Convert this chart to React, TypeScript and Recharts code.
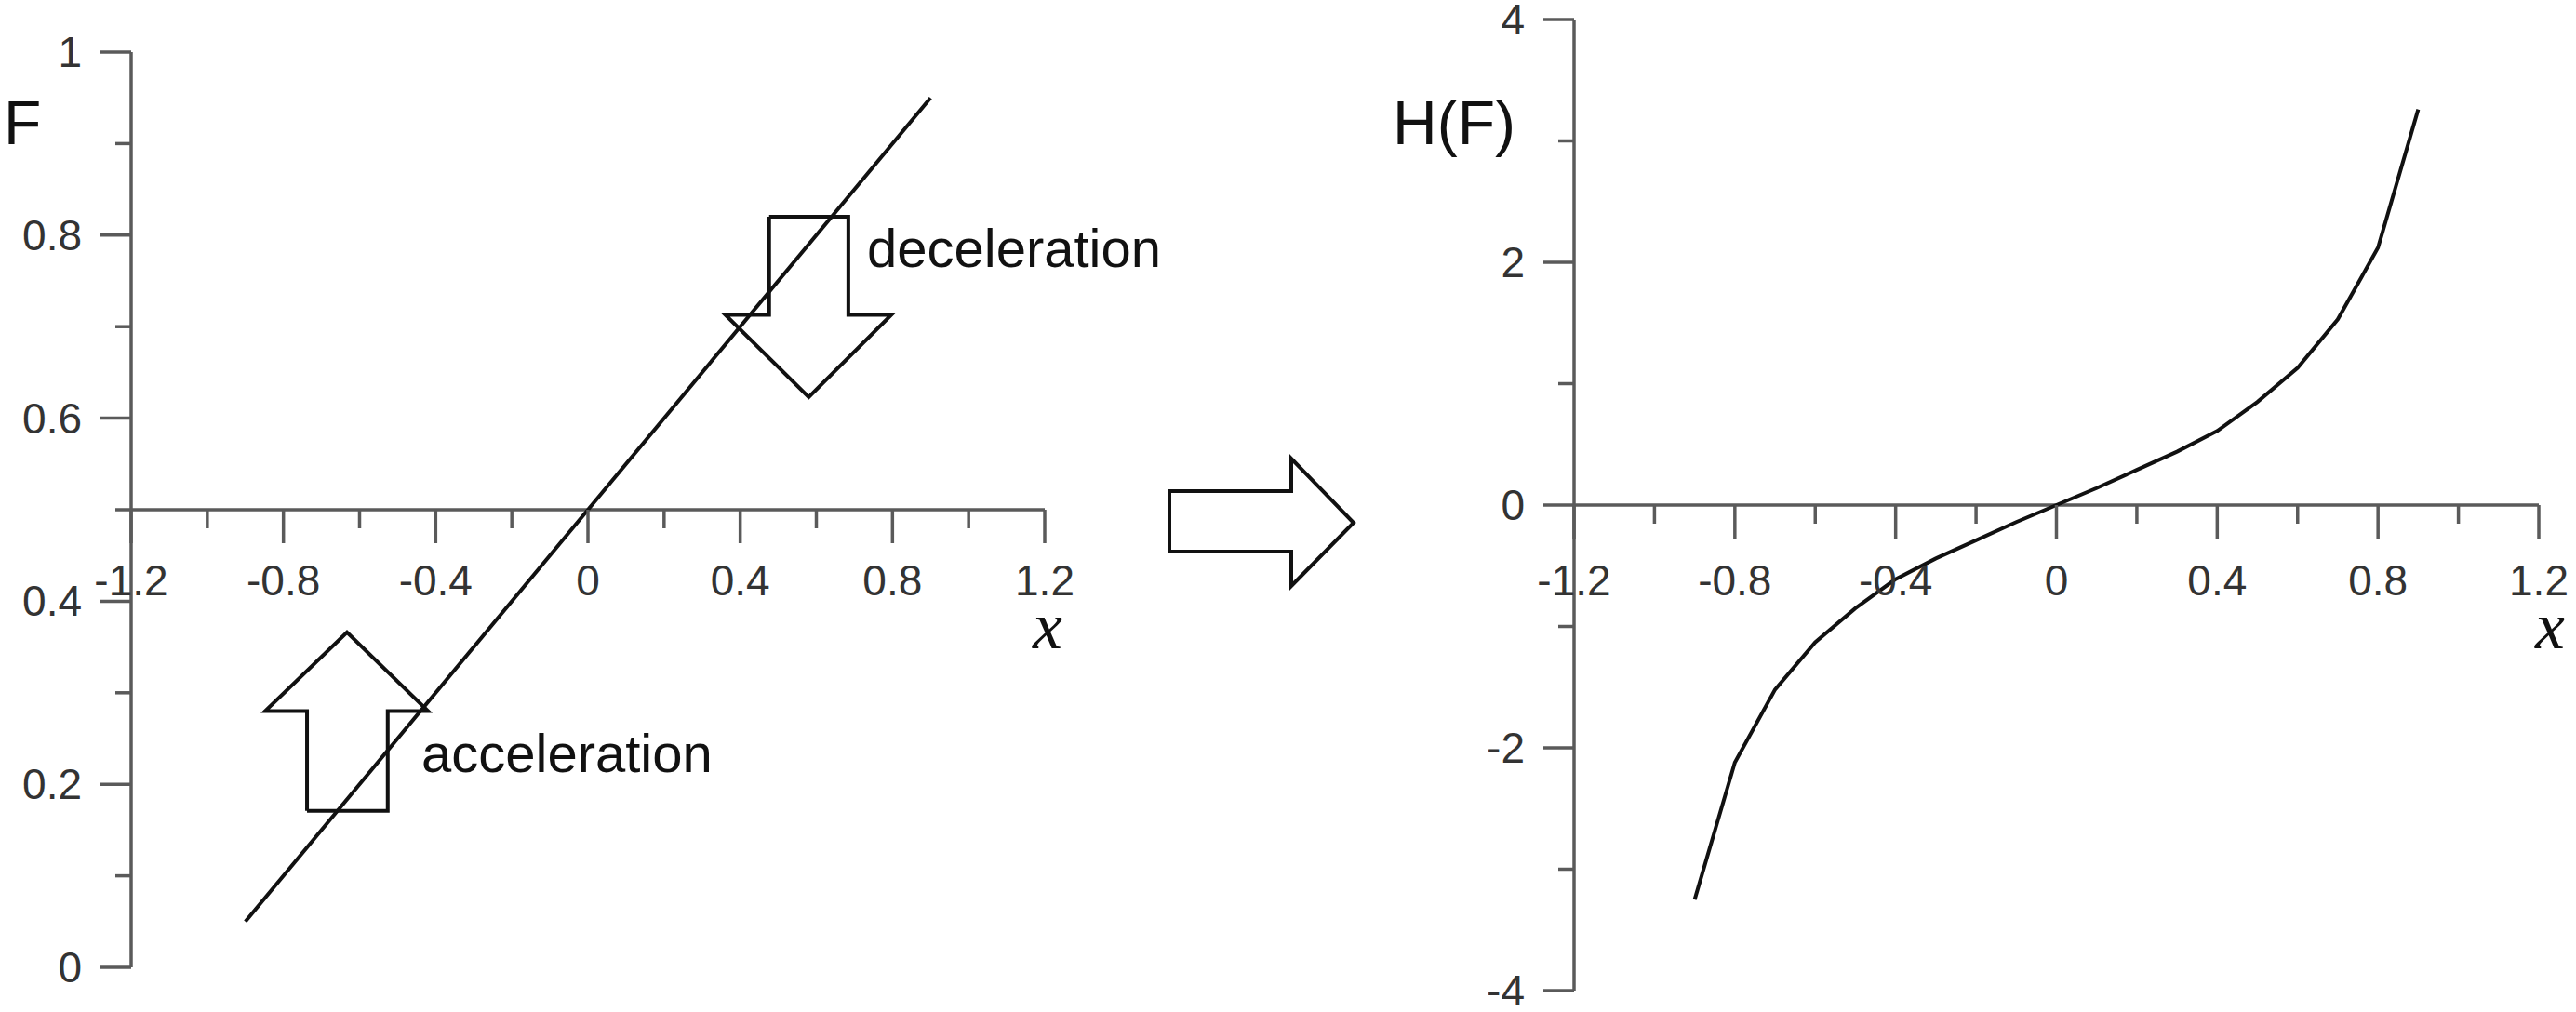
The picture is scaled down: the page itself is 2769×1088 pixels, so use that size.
import React from 'react';
import { LineChart, Line, XAxis, YAxis, ReferenceLine } from 'recharts';

// x axis shared by both panels
const X_TICKS = [-1.2, -1.0, -0.8, -0.6, -0.4, -0.2, 0, 0.2, 0.4, 0.6, 0.8, 1.0, 1.2];
const X_LABELED = [-1.2, -0.8, -0.4, 0, 0.4, 0.8, 1.2];

// left panel: F
const F_TICKS = [0, 0.1, 0.2, 0.3, 0.4, 0.5, 0.6, 0.7, 0.8, 0.9, 1];
const F_LABELED = [0, 0.2, 0.4, 0.6, 0.8, 1];
const lineX = [-0.9, 0, 0.9];
const lineF = [0.05, 0.5, 0.95];

// outline arrows on the left panel (x, F)
const decelX = [0.476, 0.684, 0.684, 0.797, 0.58, 0.361, 0.476, 0.476];
const decelF = [0.82, 0.82, 0.713, 0.713, 0.623, 0.713, 0.713, 0.82];
const accelX = [-0.738, -0.526, -0.526, -0.42, -0.633, -0.848, -0.738, -0.738];
const accelF = [0.171, 0.171, 0.28, 0.28, 0.366, 0.28, 0.28, 0.171];

// right panel: H(F)
const H_TICKS = [-4, -3, -2, -1, 0, 1, 2, 3, 4];
const H_LABELED = [-4, -2, 0, 2, 4];
const curveX = [-0.9, -0.8, -0.7, -0.6, -0.5, -0.4, -0.3, -0.2, -0.1, 0, 0.1, 0.2, 0.3, 0.4, 0.5, 0.6, 0.7, 0.8, 0.9];
const curveH = [-3.25, -2.12, -1.52, -1.13, -0.85, -0.61, -0.44, -0.29, -0.14, 0, 0.14, 0.29, 0.44, 0.61, 0.85, 1.13, 1.53, 2.12, 3.26];

const zip = (xs: number[], ys: number[]) => xs.map((x, i) => ({ x, y: ys[i] }));

const AXIS = '#5a5a5a';
const INK = '#111';
const SANS = "'Liberation Sans', Arial, sans-serif";
const SERIF = "'Liberation Serif', 'Times New Roman', serif";
const TICK_FONT = 46;

const isIn = (list: number[], v: number) => list.some((l) => Math.abs(l - v) < 1e-6);
const fmt = (v: number) => (Math.abs(v) < 1e-9 ? '0' : String(+v.toFixed(2)));

function makeYTick(major: number[]) {
  return (props: any) => {
    const { x, y, payload } = props;
    const big = isIn(major, payload.value);
    const len = big ? 33 : 17;
    return (
      <g>
        <line x1={x - len} y1={y} x2={x} y2={y} stroke={AXIS} strokeWidth={3.5} />
        {big && (
          <text x={x - len - 20} y={y} textAnchor="end" dominantBaseline="central"
            fontFamily={SANS} fontSize={TICK_FONT} fill="#333">
            {fmt(payload.value)}
          </text>
        )}
      </g>
    );
  };
}

// x ticks hang from the crossing axis, which sits `rise` px above the plot bottom
function makeXTick(major: number[], rise: number, drop: number) {
  return (props: any) => {
    const { x, y, payload } = props;
    const axisY = y - rise;
    const big = isIn(major, payload.value);
    const len = big ? 36 : 20;
    return (
      <g>
        <line x1={x} y1={axisY} x2={x} y2={axisY + len} stroke={AXIS} strokeWidth={3.5} />
        {big && (
          <text x={x} y={axisY + drop} textAnchor="middle"
            fontFamily={SANS} fontSize={TICK_FONT} fill="#333">
            {fmt(payload.value)}
          </text>
        )}
      </g>
    );
  };
}

// axes get 1px of room so they still render; the margins make up the rest
const LEFT = { w: 1200, h: 1088, m: { top: 56, right: 77, bottom: 47, left: 140 } };
const RIGHT = { w: 1469, h: 1088, m: { top: 21, right: 40, bottom: 22, left: 391 } };

export default function App() {
  const leftPlotH = LEFT.h - LEFT.m.top - LEFT.m.bottom - 1;
  const rightPlotH = RIGHT.h - RIGHT.m.top - RIGHT.m.bottom - 1;

  return (
    <div style={{ position: 'absolute', left: 0, top: 0, width: 2769, height: 1088, background: '#fff' }}>
      <div style={{ position: 'absolute', left: 0, top: 0 }}>
        <LineChart width={LEFT.w} height={LEFT.h} margin={LEFT.m}>
          <XAxis type="number" dataKey="x" domain={[-1.2, 1.2]} ticks={X_TICKS} interval={0}
            height={1} tickSize={0} tickMargin={0} tickLine={false} axisLine={false}
            allowDataOverflow tick={makeXTick(X_LABELED, leftPlotH * 0.5, 92)} />
          <YAxis type="number" domain={[0, 1]} ticks={F_TICKS} interval={0} width={1}
            tickSize={0} tickMargin={0} tickLine={false} allowDataOverflow
            axisLine={{ stroke: AXIS, strokeWidth: 3.5 }} tick={makeYTick(F_LABELED)} />
          <ReferenceLine y={0.5} stroke={AXIS} strokeWidth={3.5} />
          <Line data={zip(lineX, lineF)} dataKey="y" type="linear" stroke={INK} strokeWidth={4}
            dot={false} isAnimationActive={false} />
          <Line data={zip(decelX, decelF)} dataKey="y" type="linear" stroke={INK} strokeWidth={4}
            strokeLinejoin="miter" dot={false} isAnimationActive={false} />
          <Line data={zip(accelX, accelF)} dataKey="y" type="linear" stroke={INK} strokeWidth={4}
            strokeLinejoin="miter" dot={false} isAnimationActive={false} />
        </LineChart>
      </div>

      <div style={{ position: 'absolute', left: 1300, top: 0 }}>
        <LineChart width={RIGHT.w} height={RIGHT.h} margin={RIGHT.m}>
          <XAxis type="number" dataKey="x" domain={[-1.2, 1.2]} ticks={X_TICKS} interval={0}
            height={1} tickSize={0} tickMargin={0} tickLine={false} axisLine={false}
            allowDataOverflow tick={makeXTick(X_LABELED, rightPlotH * 0.5, 97)} />
          <YAxis type="number" domain={[-4, 4]} ticks={H_TICKS} interval={0} width={1}
            tickSize={0} tickMargin={0} tickLine={false} allowDataOverflow
            axisLine={{ stroke: AXIS, strokeWidth: 3.5 }} tick={makeYTick(H_LABELED)} />
          <ReferenceLine y={0} stroke={AXIS} strokeWidth={3.5} />
          <Line data={zip(curveX, curveH)} dataKey="y" type="linear" stroke={INK} strokeWidth={4}
            dot={false} isAnimationActive={false} />
        </LineChart>
      </div>

      {/* axis titles, annotations and the arrow between the panels */}
      <svg width={2769} height={1088} style={{ position: 'absolute', left: 0, top: 0, pointerEvents: 'none' }}>
        <text x={4} y={155} fontFamily={SANS} fontSize={66} fill={INK}>F</text>
        <text x={1497} y={155} fontFamily={SANS} fontSize={66} fill={INK}>H(F)</text>
        <text x={1126} y={697} textAnchor="middle" fontFamily={SERIF} fontStyle="italic" fontSize={72} fill={INK}>x</text>
        <text x={2741} y={697} textAnchor="middle" fontFamily={SERIF} fontStyle="italic" fontSize={72} fill={INK}>x</text>
        <text x={932} y={287} fontFamily={SANS} fontSize={58} fill={INK}>deceleration</text>
        <text x={453} y={830} fontFamily={SANS} fontSize={58} fill={INK}>acceleration</text>
        <polygon points="1257,528 1388,528 1388,493 1455,562 1388,630 1388,593 1257,593"
          fill="#fff" stroke={INK} strokeWidth={4} />
      </svg>
    </div>
  );
}
